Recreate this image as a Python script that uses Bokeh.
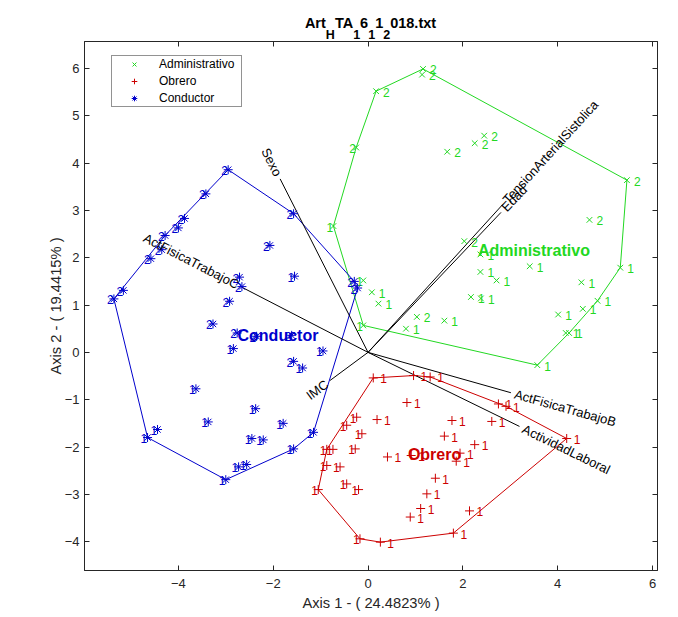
import math
import numpy as np
from bokeh.plotting import figure
from bokeh.layouts import column
from bokeh.models import (Range1d, LinearAxis, FixedTicker, Legend, LegendItem,
                          ColumnDataSource, Div)
from bokeh.core.properties import value
from bokeh.embed import file_html
from bokeh.resources import INLINE

# ---------------- data ----------------
group_names = ["Administrativo", "Obrero", "Conductor"]

adm_x = [1.16, 1.14, 0.17, -0.25, -0.73, 1.67, 2.25, 2.45, 5.46, 4.67, 2.03, 2.37,
         2.37, 2.71, 3.41, 2.17, 2.38, 1.03, 1.61, 0.80, 3.57, 5.32, 4.50, 4.84,
         4.53, 4.01, 4.17, 4.24, 0.08, 0.22, -0.10, -0.10]
adm_y = [5.99, 5.87, 5.52, 4.33, 2.67, 4.24, 4.42, 4.58, 3.64, 2.80, 2.35, 2.07,
         1.70, 1.52, 1.82, 1.17, 1.14, 0.75, 0.67, 0.50, -0.27, 1.79, 1.48, 1.09,
         0.92, 0.80, 0.41, 0.41, 1.27, 1.03, 1.52, 0.57]
adm_lab = ["2", "2", "2", "2", "1", "2", "2", "2", "2", "2", "2", "1",
           "1", "1", "1", "1", "1", "2", "1", "1", "1", "1", "1", "1",
           "1", "1", "1", "1", "1", "1", "1", "1"]

obr_x = [0.11, 0.96, 1.31, 0.82, 2.75, 2.91, -0.24, -0.45, 0.19, 1.77, 2.61, -0.13,
         1.61, 2.25, -0.87, -0.74, -0.27, 0.41, 0.91, 1.94, 1.86, -0.87, -0.59, 1.42,
         -0.45, -1.05, -0.20, 1.24, 1.11, 0.89, 2.14, 1.80, -0.17, 0.26, 4.19]
obr_y = [-0.54, -0.49, -0.52, -1.06, -1.09, -1.14, -1.37, -1.54, -1.42, -1.44, -1.46, -1.72,
         -1.77, -1.95, -2.05, -2.05, -2.04, -2.21, -2.18, -2.13, -2.30, -2.39, -2.42, -2.66,
         -2.78, -2.90, -2.90, -2.99, -3.30, -3.48, -3.35, -3.82, -3.94, -4.01, -1.82]
obr_lab = ["1"] * 35

con_x = [-2.95, -3.42, -3.87, -4.00, -4.28, -4.35, -4.58, -5.16, -5.36, -1.57, -2.07, -1.55,
         -2.71, -2.66, -2.92, -3.27, -2.76, -2.35, -1.61, -0.29, -0.22, -2.84, -0.95, -1.57,
         -1.38, -3.63, -2.37, -3.37, -4.44, -4.65, -1.79, -1.15, -2.45, -2.21, -1.57, -2.73,
         -2.56, -3.00]
con_y = [3.86, 3.35, 2.83, 2.63, 2.47, 2.17, 1.98, 1.31, 1.13, 2.93, 2.26, 1.61,
         1.59, 1.39, 1.08, 0.60, 0.41, 0.34, 0.36, 1.50, 1.36, 0.08, 0.03, -0.19,
         -0.33, -0.77, -1.19, -1.47, -1.63, -1.80, -1.50, -1.69, -1.82, -1.85, -2.04, -2.42,
         -2.37, -2.69]
con_lab = ["2", "2", "2", "2", "2", "2", "2", "2", "2", "2", "2", "1",
           "2", "2", "2", "2", "2", "2", "2", "2", "2", "1", "1", "2",
           "1", "1", "1", "1", "1", "1", "1", "1", "1", "1", "1", "1",
           "1", "1"]

var_names = ["Sexo", "ActFisicaTrabajoC", "IMC", "Edad", "TensionArterialSistolica",
             "ActFisicaTrabajoB", "ActividadLaboral"]
var_x = [-1.854, -2.662, -0.800, 2.804, 2.838, 3.013, 3.194]
var_y = [3.666, 1.377, -0.593, 2.958, 3.123, -0.853, -1.565]

x_ticks = [-4, -2, 0, 2, 4, 6]
y_ticks = [-4, -3, -2, -1, 0, 1, 2, 3, 4, 5, 6]
x_label = "Axis 1 - ( 24.4823% )"
y_label = "Axis 2 - ( 19.4415% )"
title_parts = [("Art", 0), ("H", 1), ("TA", 0), ("1", 1), ("6", 0), ("1", 1),
               ("1", 0), ("2", 1), ("018.txt", 0)]

# ---------------- styling ----------------
FONT = "Liberation Sans"
AX = "#262626"
colors = {"Administrativo": "#22d822", "Obrero": "#cc0000", "Conductor": "#0000cc"}
markers = {"Administrativo": "x", "Obrero": "cross", "Conductor": "asterisk"}
msize = {"Administrativo": 8, "Obrero": 9, "Conductor": 9}

XMIN, XMAX = -5.98, 6.105
YMIN, YMAX = -4.61, 6.57
FW, FH = 573, 529
LEFT, TOP = 84, 41
pxu = FW / (XMAX - XMIN)
pyu = FH / (YMAX - YMIN)

p = figure(width=678, height=617 - TOP, x_range=Range1d(XMIN, XMAX),
           y_range=Range1d(YMIN, YMAX), output_backend="svg", toolbar_location=None,
           title=None, min_border_left=LEFT, min_border_right=678 - LEFT - FW,
           min_border_top=0, min_border_bottom=617 - TOP - FH, margin=(0, 0, 0, 0))
p.grid.visible = False
p.outline_line_color = AX
p.outline_line_width = 1
p.background_fill_color = "white"
p.border_fill_color = "white"

for ax in (p.xaxis, p.yaxis):
    ax.major_tick_in = 5
    ax.major_tick_out = 0
    ax.minor_tick_line_color = None
    ax.axis_line_color = AX
    ax.major_tick_line_color = AX
    ax.major_label_text_color = AX
    ax.major_label_text_font = FONT
    ax.major_label_text_font_size = "13px"
    ax.axis_label_text_font = FONT
    ax.axis_label_text_font_size = "14.7px"
    ax.axis_label_text_font_style = "normal"
    ax.axis_label_text_color = AX
p.xaxis.ticker = FixedTicker(ticks=x_ticks)
p.yaxis.ticker = FixedTicker(ticks=y_ticks)
p.xaxis.axis_label = x_label
p.yaxis.axis_label = y_label
p.xaxis.major_label_standoff = 8
p.yaxis.major_label_standoff = 5
p.xaxis.axis_label_standoff = 4
p.yaxis.axis_label_standoff = -2

# box ticks on the right and on top: tick marks only, no tick labels
for loc, tk in (("right", y_ticks), ("above", x_ticks)):
    a = LinearAxis(ticker=FixedTicker(ticks=[], minor_ticks=tk),
                   major_tick_in=0, major_tick_out=0, minor_tick_in=5, minor_tick_out=0,
                   axis_line_color=AX, minor_tick_line_color=AX, major_tick_line_color=None,
                   major_label_standoff=0, axis_label_standoff=0)
    p.add_layout(a, loc)


def hull(xs, ys):
    pts = sorted(set(zip(xs, ys)))
    def cross(o, a, b):
        return (a[0] - o[0]) * (b[1] - o[1]) - (a[1] - o[1]) * (b[0] - o[0])
    lower, upper = [], []
    for q in pts:
        while len(lower) >= 2 and cross(lower[-2], lower[-1], q) <= 0:
            lower.pop()
        lower.append(q)
    for q in reversed(pts):
        while len(upper) >= 2 and cross(upper[-2], upper[-1], q) <= 0:
            upper.pop()
        upper.append(q)
    h = lower[:-1] + upper[:-1]
    h.append(h[0])
    return [q[0] for q in h], [q[1] for q in h]


groups = {
    "Administrativo": (adm_x, adm_y, adm_lab),
    "Obrero": (obr_x, obr_y, obr_lab),
    "Conductor": (con_x, con_y, con_lab),
}

# hulls
for g in group_names:
    xs, ys, _ = groups[g]
    hx, hy = hull(xs, ys)
    p.line(hx, hy, line_color=colors[g], line_width=1)

# biplot vectors
for vx, vy in zip(var_x, var_y):
    p.segment(x0=0, y0=0, x1=vx, y1=vy, line_color="black", line_width=1)

# markers and point labels
renderers = {}
for g in group_names:
    xs, ys, labs = groups[g]
    src = ColumnDataSource(dict(x=xs, y=ys, lab=labs,
                                xo=[7 if v >= 0 else -7 for v in xs]))
    renderers[g] = p.scatter("x", "y", source=src, marker=markers[g], size=msize[g],
                             line_color=colors[g], line_width=1)
    p.text("x", "y", text="lab", source=src, x_offset="xo", y_offset=1,
           text_font=value(FONT), text_font_size="12px", text_color=colors[g],
           text_align="left", text_baseline="middle")

# vector labels
vt = dict(x=[], y=[], t=[], a=[], al=[], xo=[], yo=[])
for name, vx, vy in zip(var_names, var_x, var_y):
    th = math.atan2(vy * pyu, vx * pxu)
    ang = th + math.pi if vx < 0 else th
    vt["x"].append(vx)
    vt["y"].append(vy)
    vt["t"].append(name)
    vt["a"].append(ang)
    vt["al"].append("right" if vx < 0 else "left")
    vt["xo"].append(4 * math.cos(th))
    vt["yo"].append(-4 * math.sin(th))
p.text("x", "y", text="t", angle="a", text_align="al", x_offset="xo", y_offset="yo",
       source=ColumnDataSource(vt), text_font=value(FONT), text_font_size="13px",
       text_color="black", text_baseline="middle")

# group labels at centroids
for g in group_names:
    xs, ys, _ = groups[g]
    p.text([float(np.mean(xs))], [float(np.mean(ys))], text=[g], text_font=value(FONT),
           text_font_size="16px", text_font_style="bold", text_color=colors[g],
           text_align="left", text_baseline="middle")

# legend
legend = Legend(items=[LegendItem(label=g, renderers=[renderers[g]]) for g in group_names],
                location=(27, 463), padding=1, spacing=3, margin=0,
                glyph_width=42, glyph_height=14, label_height=14, label_width=81,
                label_standoff=4, label_text_font=FONT, label_text_font_size="12px",
                label_text_color="black", border_line_color=AX, border_line_width=1,
                background_fill_color="white", background_fill_alpha=1)
p.add_layout(legend)

# title with TeX-like subscripts, in a strip above the plot
MAIN, SUB = 14.5, 12.5
pieces = "".join(
    (f'<span style="font-size:{SUB}px;position:relative;top:11px">{t}</span>' if s else t)
    for t, s in title_parts)
title_div = Div(
    text=(f'<div style="width:{FW}px;margin-left:{LEFT}px;text-align:center;'
          f"font-family:'{FONT}';font-weight:bold;font-size:{MAIN}px;line-height:16px;"
          f'padding-top:15px;color:#000;white-space:nowrap">{pieces}</div>'),
    width=678, height=TOP, margin=(0, 0, 0, 0),
    styles={"overflow": "visible"})

layout = column(title_div, p, spacing=0)
open("out.html", "w").write(file_html(layout, INLINE))
